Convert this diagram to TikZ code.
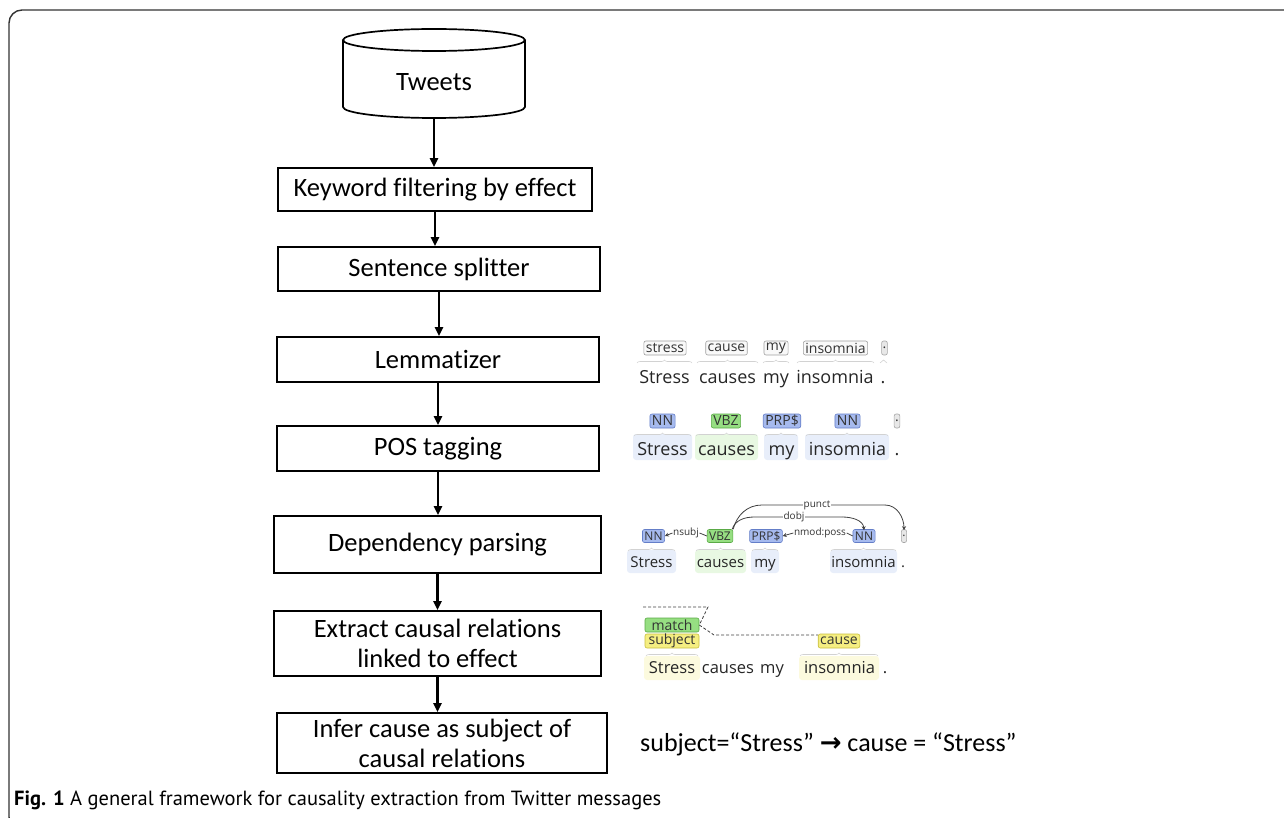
\documentclass[tikz,border=0pt]{standalone}
\usepackage{fontspec}
\setmainfont{Carlito}[Ligatures=CommonOff]
\newfontfamily\brat{Open Sans}
\newfontfamily\capfont{PT Sans}
\newfontfamily\arrowfont{DejaVu Sans}
\usetikzlibrary{arrows.meta,decorations.pathreplacing}
\definecolor{nnfill}{RGB}{166,186,238}
\definecolor{nndraw}{RGB}{100,126,200}
\definecolor{vbfill}{RGB}{150,222,130}
\definecolor{vbdraw}{RGB}{90,170,70}
\definecolor{yefill}{RGB}{245,238,130}
\definecolor{yedraw}{RGB}{200,190,60}
\definecolor{nnbg}{RGB}{232,238,250}
\definecolor{vbbg}{RGB}{232,248,226}
\definecolor{yebg}{RGB}{252,250,222}
\tikzset{
  box/.style={draw, line width=1.7pt, align=center, inner sep=0pt, font=\fontsize{26.5}{30}\selectfont},
  arr/.style={line width=2.2pt, -{Triangle[length=9pt,width=8pt]}},
  wd/.style={font=\brat\fontsize{18}{20}\selectfont, inner sep=0pt, anchor=base, text=black!85},
  wds/.style={wd, font=\brat\fontsize{15}{17}\selectfont},
  wdm/.style={wd, font=\brat\fontsize{16.5}{19}\selectfont},
  lab/.style={font=\brat\fontsize{14}{15}\selectfont, rounded corners=2pt, inner xsep=2pt, inner ysep=0pt, minimum height=14pt, line width=0.6pt, text=black!80},
  labs/.style={lab, font=\brat\fontsize{12}{13}\selectfont, minimum height=13pt},
  lem/.style={lab, draw=gray!75, fill=gray!5},
  nn/.style={draw=nndraw, fill=nnfill},
  vb/.style={draw=vbdraw, fill=vbfill},
  ye/.style={draw=yedraw, fill=yefill},
  pt/.style={draw=gray!70, fill=gray!18, inner xsep=1pt},
  brc/.style={draw=gray!35, line width=0.6pt, decorate, decoration={brace, amplitude=3pt}},
  dep/.style={line width=0.8pt, draw=black!75},
  deparr/.style={dep, -{Stealth[length=4pt,width=4pt]}},
  deplab/.style={font=\brat\fontsize{10}{11}\selectfont, fill=white, inner sep=0.5pt, text=black!80},
  dsh/.style={line width=0.8pt, draw=black!75, dash pattern=on 3pt off 2pt},
}
\begin{document}
\begin{tikzpicture}[x=1pt,y=-1pt]
\useasboundingbox (0,0) rectangle (1284,818);
\begin{scope}
\clip (0,0) rectangle (1284,818);
\draw[line width=1.4pt, draw=black!80, rounded corners=13pt] (9,10) rectangle (1300,830);
\end{scope}

% cylinder
\draw[line width=1.7pt, fill=white] (343,40) -- (343,107) arc[start angle=180, end angle=360, x radius=91pt, y radius=11pt] -- (525,40);
\draw[line width=1.7pt] (434,40) ellipse [x radius=91pt, y radius=11pt];
\node[font=\fontsize{26.5}{30}\selectfont] (tw) at (434,82) {Tweets};
\coordinate (twb) at (434,118);

% boxes
\node[box, minimum width=314pt, minimum height=43pt] (b1) at (435,189.5) {Keyword filtering by effect};
\node[box, minimum width=322pt, minimum height=44pt] (b2) at (439,269) {Sentence splitter};
\node[box, minimum width=322pt, minimum height=45pt] (b3) at (438,359.5) {Lemmatizer};
\node[box, minimum width=322pt, minimum height=45pt] (b4) at (438,448.5) {POS tagging};
\node[box, minimum width=327pt, minimum height=57pt] (b5) at (437.5,544.5) {Dependency parsing};
\node[box, minimum width=327pt, minimum height=65pt] (b6) at (437.5,643.5) {Extract causal relations\\linked to effect};
\node[box, minimum width=330pt, minimum height=60pt] (b7) at (442,743) {Infer cause as subject of\\causal relations};

\draw[arr] (twb) -- (twb |- b1.north);
\draw[arr] (b1.south) -- (b1.south |- b2.north);
\draw[arr] (b2.south) -- (b2.south |- b3.north);
\draw[arr] (b3.south) -- (b3.south |- b4.north);
\draw[arr] (b4.south) -- (b4.south |- b5.north);
\draw[arr] (b5.south) -- (b5.south |- b6.north);
\draw[arr] (b6.south) -- (b6.south |- b7.north);

% ---- Lemmatizer annotation
\node[wd] (l1) at (664.5,383) {Stress};
\node[wd] (l2) at (727.5,383) {causes};
\node[wd] (l3) at (776,383) {my};
\node[wd] (l4) at (835,383) {insomnia};
\node[wd] (l5) at (883,383) {.};
\node[lem] (la1) at (665,348) {stress};
\node[lem] (la2) at (726.5,348) {cause};
\node[lem] (la3) at (776,348) {my};
\node[lem] (la4) at (835.5,348) {insomnia};
\node[lem, pt] (la5) at (884.5,348) {.};
\draw[brc] (637,363) -- (692,363);
\draw[brc] (697,363) -- (758,363);
\draw[brc] (763,363) -- (789,363);
\draw[brc] (797,363) -- (874,363);
\draw[brc] (880,363) -- (887,363);

% ---- POS annotation
\fill[nnbg, rounded corners=3pt] (633,434) rectangle (692,460);
\fill[vbbg, rounded corners=3pt] (695,434) rectangle (758,460);
\fill[nnbg, rounded corners=3pt] (764,434) rectangle (798,460);
\fill[nnbg, rounded corners=3pt] (805,434) rectangle (889,460);
\node[wd] (p1) at (662.5,455) {Stress};
\node[wd] (p2) at (726.5,455) {causes};
\node[wd] (p3) at (781.5,455) {my};
\node[wd] (p4) at (847.5,455) {insomnia};
\node[wd] (p5) at (897,455) {.};
\node[lab, nn] (pa1) at (662.5,421) {NN};
\node[lab, vb] (pa2) at (726,421) {VBZ};
\node[lab, nn] (pa3) at (782,421) {PRP\$};
\node[lab, nn] (pa4) at (847.5,421) {NN};
\node[lab, pt] (pa5) at (897,421) {.};
\draw[brc] (634,436) -- (691,436);
\draw[brc] (696,436) -- (757,436);
\draw[brc] (765,436) -- (797,436);
\draw[brc] (806,436) -- (888,436);

% ---- Dependency annotation
\fill[nnbg, rounded corners=3pt] (627,550) rectangle (676,573);
\fill[vbbg, rounded corners=3pt] (695,550) rectangle (746,573);
\fill[nnbg, rounded corners=3pt] (751,550) rectangle (779,573);
\fill[nnbg, rounded corners=3pt] (830,550) rectangle (897,573);
\node[wds] (d1) at (651.5,567) {Stress};
\node[wds] (d2) at (720.5,567) {causes};
\node[wds] (d3) at (765,567) {my};
\node[wds] (d4) at (863.5,567) {insomnia};
\node[wds] (d5) at (903,567) {.};
\node[labs, nn] (da1) at (653.5,536) {NN};
\node[labs, vb] (da2) at (720,536) {VBZ};
\node[labs, nn] (da3) at (766,536) {PRP\$};
\node[labs, nn] (da4) at (864,536) {NN};
\node[labs, pt] (da5) at (904,536) {.};
\draw[brc] (628,551) -- (675,551);
\draw[brc] (696,551) -- (745,551);
\draw[brc] (752,551) -- (778,551);
\draw[brc] (831,551) -- (896,551);
% arcs
\draw[dep] (da2.north east) to[out=75,in=180] (762,505) -- (885,505);
\draw[deparr] (885,505) to[out=0,in=90] ([yshift=-1pt]da5.north);
\node[deplab] (pl) at (817,505) {punct};
\draw[dep] ([xshift=-1pt]da2.north east) to[out=70,in=180] (755,517) -- (842,517);
\draw[deparr] (842,517) to[out=0,in=95] ([yshift=-1pt]da4.north);
\node[deplab] (dl) at (794,517) {dobj};
\node[deplab] (nl) at (686,533) {nsubj};
\draw[dep] (da2.west) to[out=180,in=0] (nl.east);
\draw[deparr] (nl.west) -- (da1.east);
\node[deplab] (ml) at (820,533) {nmod:poss};
\draw[dep] (da4.west) to[out=180,in=0] (ml.east);
\draw[deparr] (ml.west) -- (da3.east);

% ---- Match annotation
\fill[yebg, rounded corners=3pt] (644,656) rectangle (700,680);
\fill[yebg, rounded corners=3pt] (799,656) rectangle (879,680);
\node[wdm] (m1) at (672,673) {Stress};
\node[wdm] (m2) at (728,673) {causes};
\node[wdm] (m3) at (772,673) {my};
\node[wdm] (m4) at (839.5,673) {insomnia};
\node[wdm] (m5) at (885,673) {.};
\node[lab, vb, minimum width=54pt] (ma) at (672,625) {match};
\node[lab, ye, minimum width=54pt] (ms) at (672,641) {subject};
\node[lab, ye] (mc) at (839,641) {cause};
\draw[brc] (646,656) -- (698,656);
\draw[brc] (800,656) -- (878,656);
\coordinate (mst) at (643,607);
\draw[dsh] (mst) -- (708,607) -- (ma.east);
\draw[dsh] (ma.east) -- (714,635) -- ([yshift=6pt]mc.west);

% ---- bottom text
\node[anchor=west, font=\fontsize{26}{30}\selectfont, inner sep=0pt] (res) at (640,744) {subject=“Stress” {\arrowfont\bfseries →} cause = “Stress”};

% caption
\node[anchor=base west, font=\capfont\fontsize{20.5}{24}\selectfont, inner sep=0pt] (cap) at (14,805) {{\bfseries Fig. 1} A general framework for causality extraction from Twitter messages};
\end{tikzpicture}
\end{document}
